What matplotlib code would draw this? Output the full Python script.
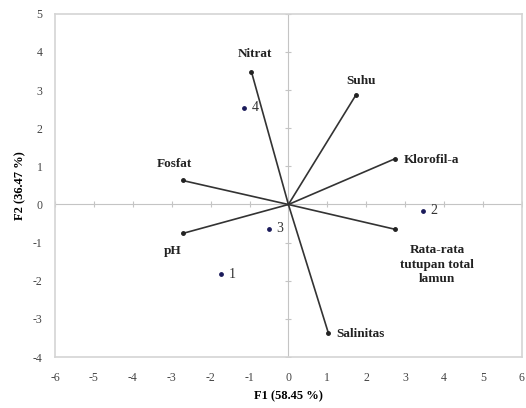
import matplotlib
matplotlib.use("Agg")
import matplotlib.pyplot as plt

# variable vectors (loadings) in F1/F2 space
var_names = ["Nitrat", "Suhu", "Klorofil-a", "Fosfat", "pH",
             "Rata-rata\ntutupan total\nlamun", "Salinitas"]
var_x = [-0.95, 1.74, 2.74, -2.72, -2.72, 2.74, 1.03]
var_y = [3.48, 2.88, 1.20, 0.63, -0.76, -0.65, -3.38]

# stations (observations)
obs_names = ["1", "2", "3", "4"]
obs_x = [-1.74, 3.46, -0.51, -1.13]
obs_y = [-1.83, -0.16, -0.63, 2.54]

ticks_x = list(range(-6, 7))
ticks_y = list(range(-4, 6))

plt.rcParams["font.family"] = ["Liberation Serif", "DejaVu Serif"]
plt.rcParams["axes.unicode_minus"] = False

fig = plt.figure(figsize=(5.26, 4.08), dpi=100)
ax = fig.add_axes([0.1046, 0.125, 0.8874, 0.841])
ax.set_xlim(-6, 6)
ax.set_ylim(-4, 5)

for s in ax.spines.values():
    s.set_color("#d4d4d4")
    s.set_linewidth(1.2)

ax.set_xticks(ticks_x)
ax.set_yticks(ticks_y)
ax.tick_params(axis="x", length=0, labelsize=8.5, colors="#444444", pad=11)
ax.tick_params(axis="y", length=0, labelsize=8.5, colors="#444444", pad=9)

# centre axes with small tick marks
ax.axhline(0, color="#c4c4c4", lw=0.8, zorder=1)
ax.axvline(0, color="#c4c4c4", lw=0.8, zorder=1)
ax.plot(ticks_x, [0] * len(ticks_x), ls="none", marker="|", ms=4, color="#c4c4c4", mew=0.8)
ax.plot([0] * len(ticks_y), ticks_y, ls="none", marker="_", ms=4, color="#c4c4c4", mew=0.8)

for x, y in zip(var_x, var_y):
    ax.plot([0, x], [0, y], color="#333333", lw=1.2, zorder=3)
    ax.plot([x], [y], marker="o", ms=2.5, color="#222222", zorder=4)

ax.scatter(obs_x, obs_y, s=6, color="#1a1a5a", zorder=4)
for n, x, y in zip(obs_names, obs_x, obs_y):
    ax.text(x + 0.2, y, n, fontsize=10, va="center", ha="left", color="#333333")

bold = dict(fontsize=9.5, fontweight="bold", color="#222222")
ax.text(-0.87, 3.95, var_names[0], ha="center", va="center", **bold)
ax.text(1.87, 3.25, var_names[1], ha="center", va="center", **bold)
ax.text(2.97, 1.18, var_names[2], ha="left", va="center", **bold)
ax.text(-2.92, 1.07, var_names[3], ha="center", va="center", **bold)
ax.text(-2.97, -1.23, var_names[4], ha="center", va="center", **bold)
ax.text(3.82, -1.58, var_names[5], ha="center", va="center", linespacing=1.3, **bold)
ax.text(1.23, -3.4, var_names[6], ha="left", va="center", **bold)

ax.set_xlabel("F1 (58.45 %)", fontsize=9, fontweight="bold", labelpad=4)
ax.set_ylabel("F2 (36.47 %)", fontsize=9, fontweight="bold", labelpad=5)

fig.savefig("out.png", dpi=100)
